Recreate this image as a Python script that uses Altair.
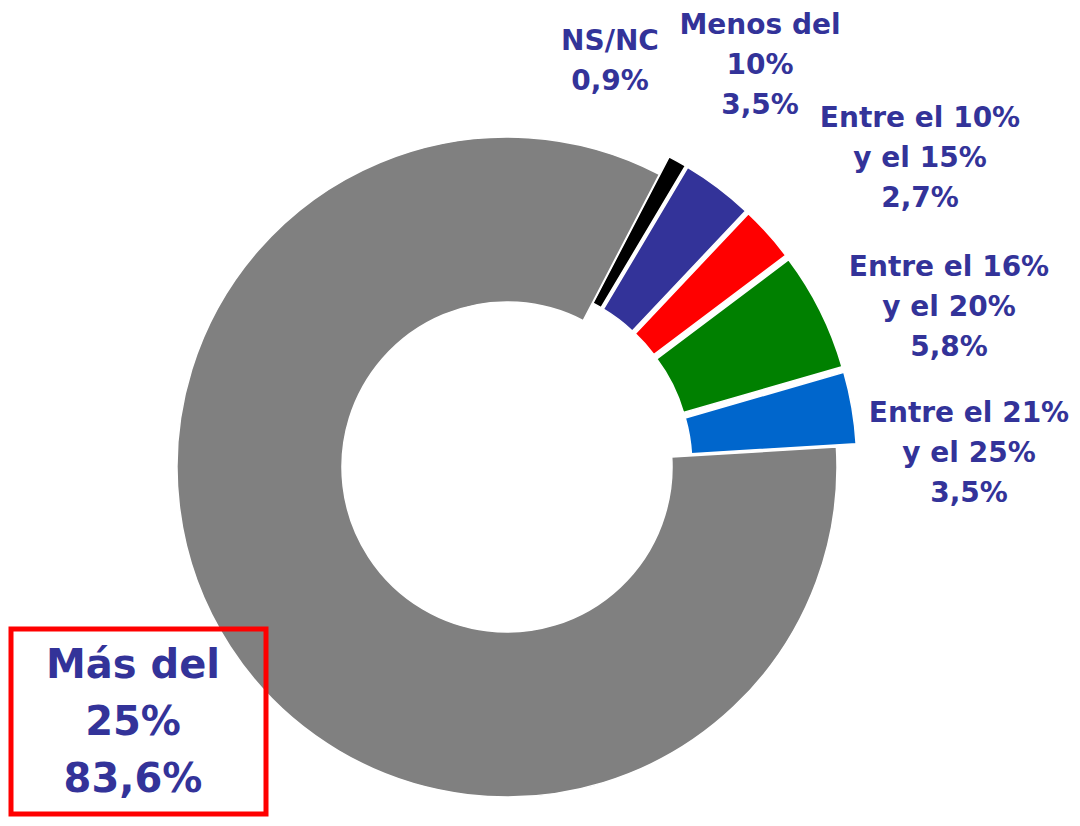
import math
import altair as alt
import pandas as pd

# ---- data ----
categories = ["NS/NC", "Menos del 10%", "Entre el 10% y el 15%",
              "Entre el 16% y el 20%", "Entre el 21% y el 25%", "Más del 25%"]
values = [0.9, 3.5, 2.7, 5.8, 3.5, 83.6]
colors = ["#000000", "#333399", "#FF0000", "#008000", "#0066CC", "#808080"]
label_heads = ["NS/NC", "Menos del\n10%", "Entre el 10%\ny el 15%",
               "Entre el 16%\ny el 20%", "Entre el 21%\ny el 25%", "Más del\n25%"]

# ---- layout ----
W, H = 1064, 810
CX, CY = 499, 459
R_OUT, R_IN = 330, 165
START = math.radians(27.5)
EXPLODE = 20
TEXT_COLOR = "#333399"
FONT = "DejaVu Sans"
# label anchors (x centre, first baseline), font size, line height
label_layout = [
    (602, 42, 28, 40),
    (752, 26, 28, 40),
    (912, 119, 28, 40),
    (941, 268, 28, 40),
    (961, 414, 28, 40),
    (125, 670, 40, 57),
]

df = pd.DataFrame({"category": categories, "value": values,
                   "order": list(range(len(categories)))})

arcs = (
    alt.Chart(df)
    .transform_window(cum="sum(value)", sort=[alt.SortField("order")], frame=[None, 0])
    .transform_joinaggregate(total="sum(value)")
    .transform_calculate(t1=f"{START} + 2*PI*(datum.cum - datum.value)/datum.total")
    .transform_calculate(t2=f"{START} + 2*PI*datum.cum/datum.total")
    .transform_calculate(ex=f"datum.category == '{categories[-1]}' ? 0 : {EXPLODE}")
    .transform_calculate(px=f"{CX} + datum.ex*sin((datum.t1 + datum.t2)/2)")
    .transform_calculate(py=f"{CY} - datum.ex*cos((datum.t1 + datum.t2)/2)")
    .mark_arc(radius=R_OUT, radius2=R_IN, stroke="white", strokeWidth=1.5)
    .encode(
        theta=alt.Theta("t1:Q", scale=None),
        theta2="t2:Q",
        x=alt.X("px:Q", scale=None, axis=None),
        y=alt.Y("py:Q", scale=None, axis=None),
        color=alt.Color("category:N",
                        scale=alt.Scale(domain=categories, range=colors),
                        legend=None),
    )
)

box = (
    alt.Chart(pd.DataFrame({"k": [0]}))
    .mark_rect(fillOpacity=0, stroke="#FF0000", strokeWidth=5)
    .encode(x=alt.value(3), x2=alt.value(258), y=alt.value(621), y2=alt.value(806))
)

layers = [arcs, box]
for cat, head, val, (lx, ly, fs, lh) in zip(categories, label_heads, values, label_layout):
    txt = head + "\n" + f"{val:.1f}".replace(".", ",") + "%"
    layers.append(
        alt.Chart(pd.DataFrame({"category": [cat], "label": [txt]}))
        .mark_text(align="center", baseline="alphabetic", font=FONT,
                   fontWeight="bold", fontSize=fs, lineHeight=lh,
                   lineBreak="\n", color=TEXT_COLOR)
        .encode(x=alt.value(lx), y=alt.value(ly), text="label:N")
    )

chart = (
    alt.layer(*layers)
    .properties(width=W, height=H, padding=0,
                autosize=alt.AutoSizeParams(type="none"))
    .configure_view(strokeWidth=0)
)

chart.save("out.html", embed_options={"renderer": "svg", "actions": False})
